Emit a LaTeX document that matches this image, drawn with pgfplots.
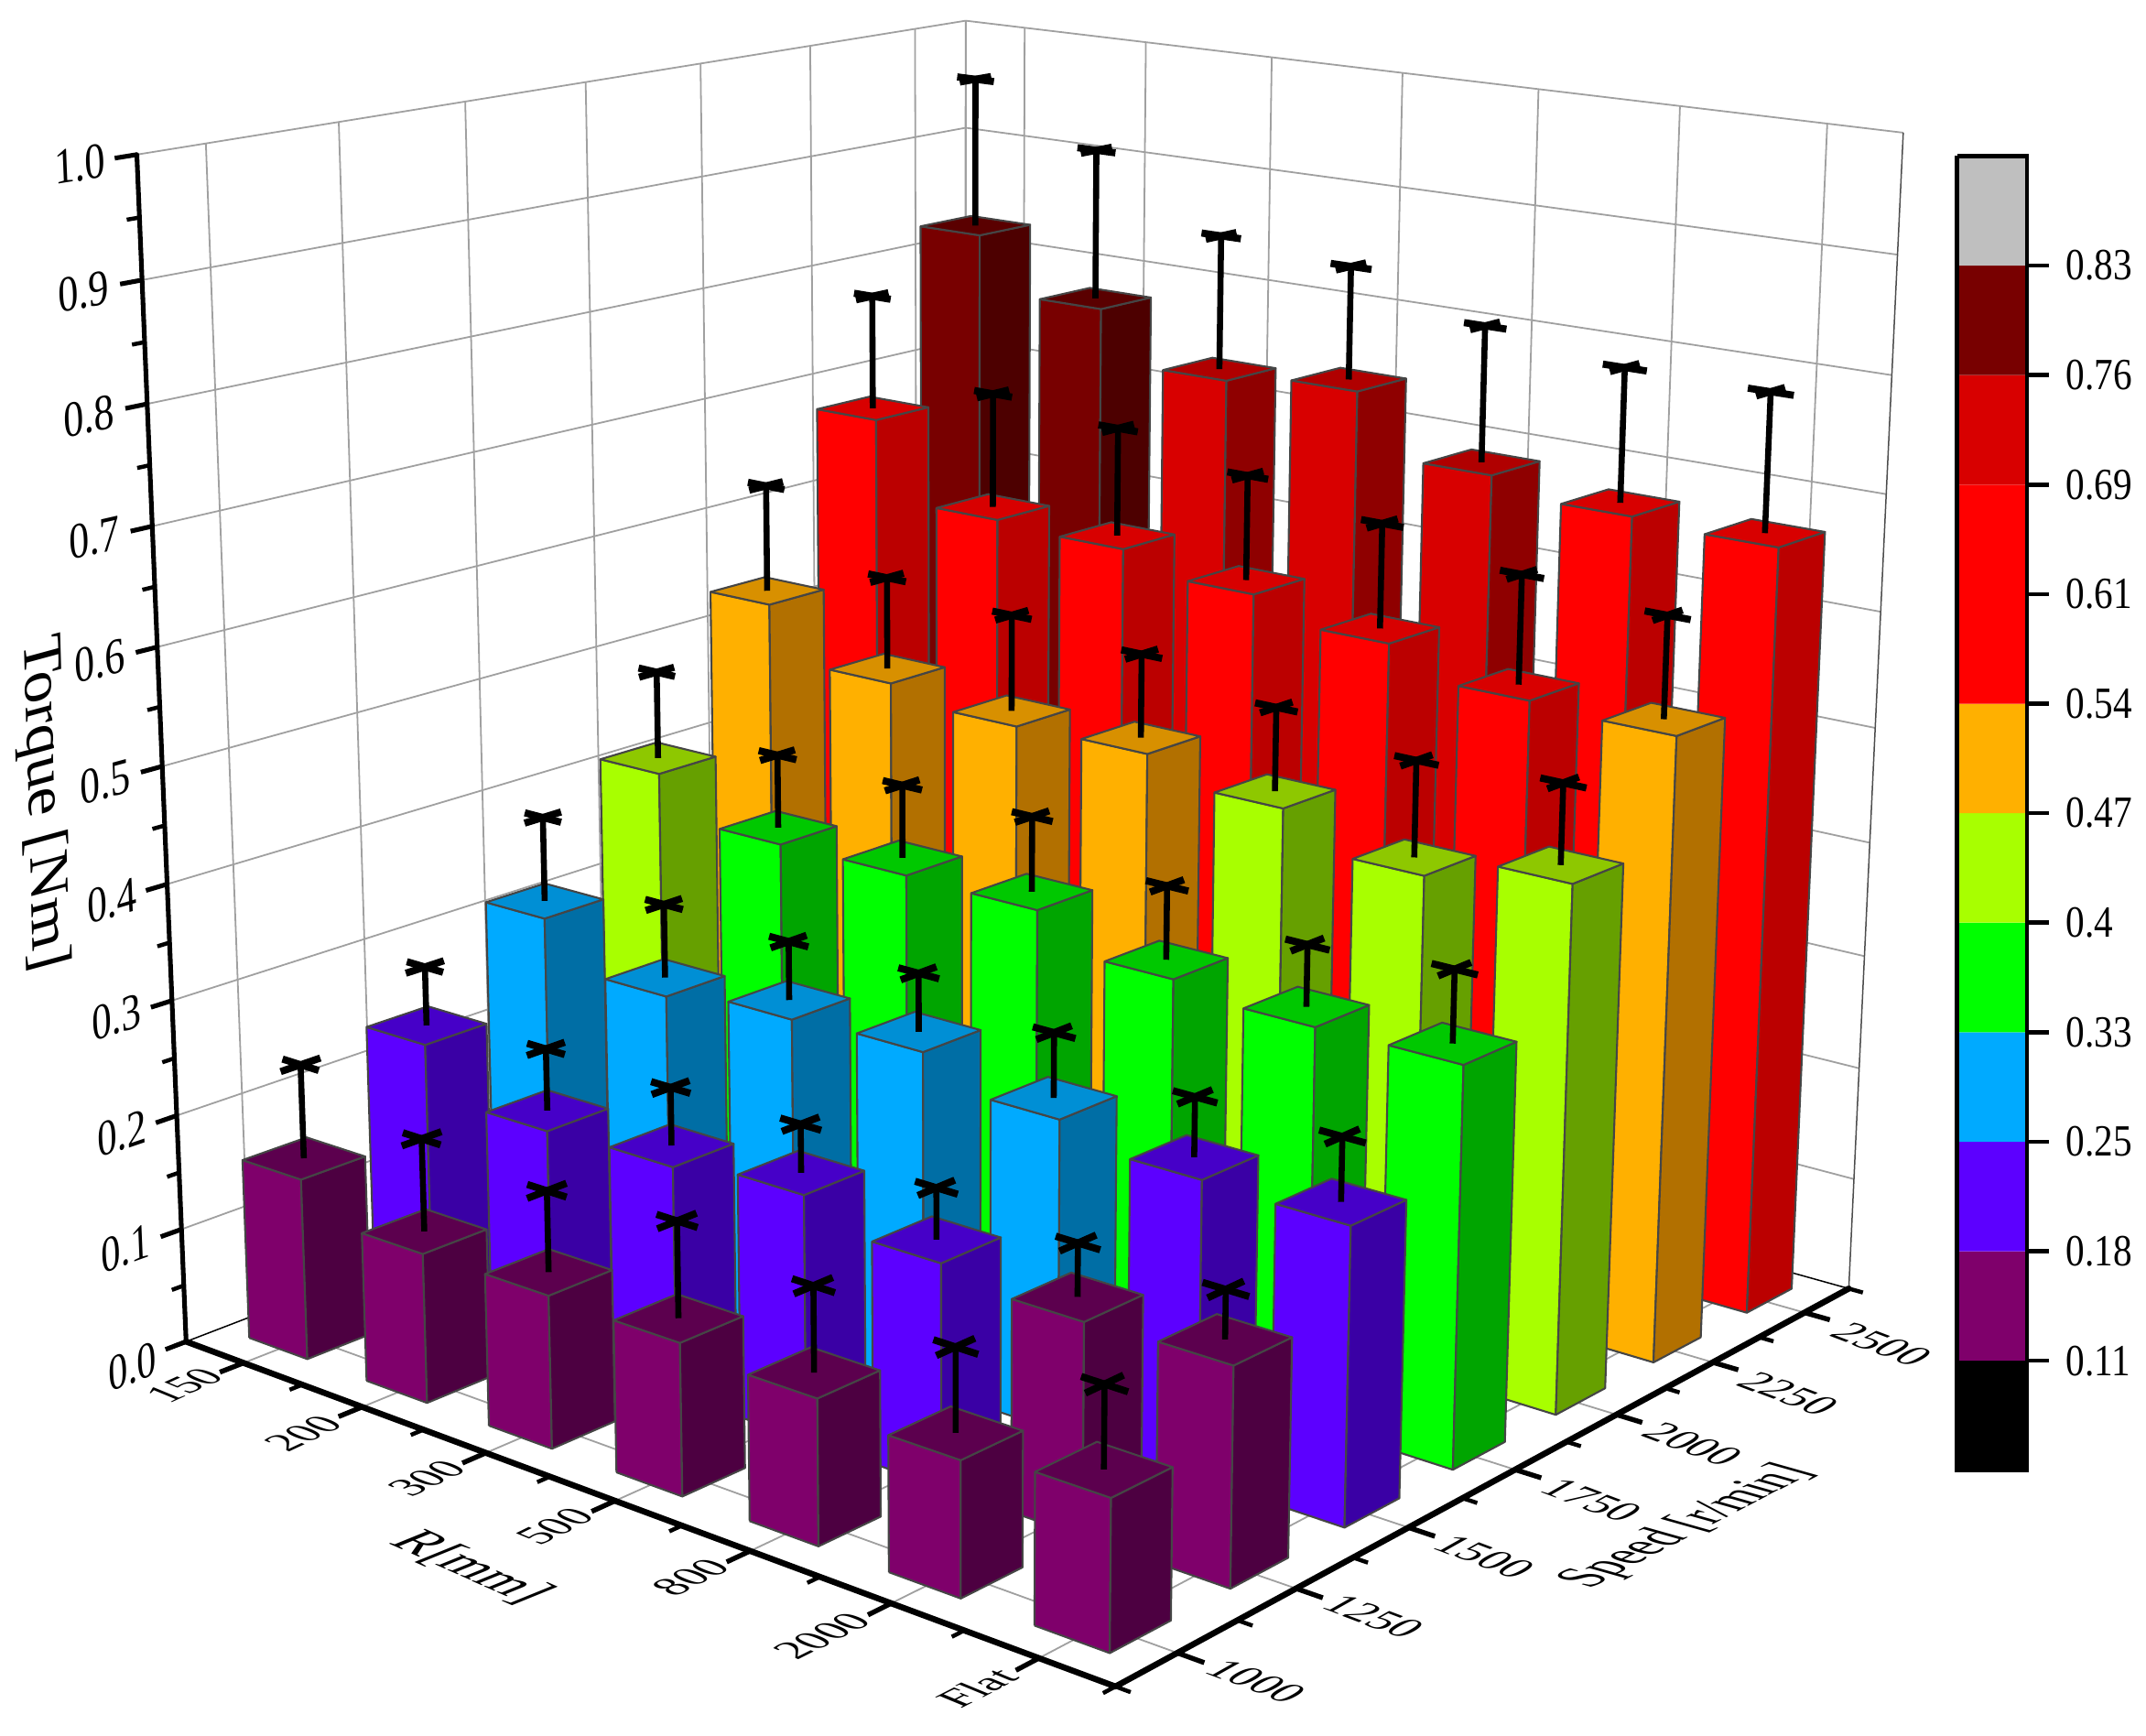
\documentclass[border=0pt]{standalone}
\usepackage{pgfplots}
\pgfplotsset{compat=1.18}
\usepackage{fontspec}
\setmainfont{Liberation Serif}
% band colours: main, right face, top face
\definecolor{cP}{HTML}{7F006B}\definecolor{cPr}{HTML}{4D0041}\definecolor{cPt}{HTML}{5C004E}
\definecolor{cV}{HTML}{5C00FF}\definecolor{cVr}{HTML}{3A00A5}\definecolor{cVt}{HTML}{4600C8}
\definecolor{cS}{HTML}{00AAFF}\definecolor{cSr}{HTML}{006EA5}\definecolor{cSt}{HTML}{008FD5}
\definecolor{cG}{HTML}{00FF00}\definecolor{cGr}{HTML}{00A500}\definecolor{cGt}{HTML}{00C800}
\definecolor{cL}{HTML}{A8FF00}\definecolor{cLr}{HTML}{66A000}\definecolor{cLt}{HTML}{8EC800}
\definecolor{cO}{HTML}{FFB000}\definecolor{cOr}{HTML}{B27000}\definecolor{cOt}{HTML}{D89000}
\definecolor{cR}{HTML}{FF0000}\definecolor{cRr}{HTML}{BB0000}\definecolor{cRt}{HTML}{D80000}
\definecolor{cD}{HTML}{D80000}\definecolor{cDr}{HTML}{8F0000}\definecolor{cDt}{HTML}{B00000}
\definecolor{cM}{HTML}{780000}\definecolor{cMr}{HTML}{4D0000}\definecolor{cMt}{HTML}{5A0000}
\definecolor{gridc}{HTML}{A0A0A0}
\definecolor{edgec}{HTML}{454545}
% perspective projection of (u,v,z) on the page
\newcommand\proj[5]{%
  \pgfmathsetmacro\W{1-0.14196*(#1)+0.17*(#2)-0.0597*(#3)}%
  \pgfmathsetmacro#4{(136+563.3*(#1)+689.4*(#2)-41.97*(#3))/\W}%
  \pgfmathsetmacro#5{(980+77.08*(#1)-89.4*(#2)-873.8*(#3))/\W}}
\newcommand\seg[7]{% options, u1 v1 z1, u2 v2 z2
  \proj{#2}{#3}{#4}{\xa}{\ya}\proj{#5}{#6}{#7}{\xb}{\yb}%
  \edef\tmp{\noexpand\addplot[#1] coordinates {(\xa,\ya) (\xb,\yb)};}\tmp}
\newcommand\tb[4]{% i, j, torque, error
  \ifdim#3pt<0.18pt\def\cc{cP}\else\ifdim#3pt<0.25pt\def\cc{cV}\else
  \ifdim#3pt<0.33pt\def\cc{cS}\else\ifdim#3pt<0.40pt\def\cc{cG}\else
  \ifdim#3pt<0.47pt\def\cc{cL}\else\ifdim#3pt<0.54pt\def\cc{cO}\else
  \ifdim#3pt<0.685pt\def\cc{cR}\else\ifdim#3pt<0.76pt\def\cc{cD}\else
  \def\cc{cM}\fi\fi\fi\fi\fi\fi\fi\fi
  \pgfmathsetmacro\uc{(#1+0.5)/7-0.0016}\pgfmathsetmacro\vc{(#2+0.5)/7+0.0038}%
  \pgfmathsetmacro\ul{\uc-0.0357}\pgfmathsetmacro\uh{\uc+0.0357}%
  \pgfmathsetmacro\vl{\vc-0.0357}\pgfmathsetmacro\vh{\vc+0.0357}%
  \proj{\ul}{\vl}{0}{\xa}{\ya}\proj{\uh}{\vl}{0}{\xb}{\yb}\proj{\uh}{\vh}{0}{\xc}{\yc}%
  \proj{\ul}{\vl}{#3}{\xd}{\yd}\proj{\uh}{\vl}{#3}{\xe}{\ye}\proj{\uh}{\vh}{#3}{\xf}{\yf}\proj{\ul}{\vh}{#3}{\xg}{\yg}%
  \edef\tmp{\noexpand\addplot[fill=\cc,draw=edgec,line width=0.7pt,line join=round] coordinates {(\xa,\ya) (\xb,\yb) (\xe,\ye) (\xd,\yd) (\xa,\ya)};
    \noexpand\addplot[fill=\cc r,draw=edgec,line width=0.7pt,line join=round] coordinates {(\xb,\yb) (\xc,\yc) (\xf,\yf) (\xe,\ye) (\xb,\yb)};
    \noexpand\addplot[fill=\cc t,draw=edgec,line width=0.7pt,line join=round] coordinates {(\xd,\yd) (\xe,\ye) (\xf,\yf) (\xg,\yg) (\xd,\yd)};}\tmp
  \pgfmathsetmacro\zt{#3+#4}%
  \seg{black,line width=2.2pt}{\uc}{\vc}{#3}{\uc}{\vc}{\zt}%
  \pgfmathsetmacro\ua{\uc-0.022}\pgfmathsetmacro\ub{\uc+0.022}\pgfmathsetmacro\va{\vc-0.022}\pgfmathsetmacro\vb{\vc+0.022}%
  \seg{black,line width=2.6pt}{\ua}{\vc}{\zt}{\ub}{\vc}{\zt}%
  \seg{black,line width=2.6pt}{\uc}{\va}{\zt}{\uc}{\vb}{\zt}}
\newcommand\band[3]{\addplot[fill=#1,draw=none] coordinates {(1430,#2) (1481,#2) (1481,#3) (1430,#3) (1430,#2)};}
\newcommand\cbl[2]{\addplot[black,line width=1.5pt] coordinates {(1481,#1) (1497,#1)};
  \node[anchor=west,yscale=1.18,inner sep=0pt,font=\fontsize{13.8}{13.8}\selectfont] at (axis cs:1509,#1) {#2};}
\newcommand\zl[5]{\node[cm={#3,#4,-0.05,1.23,(0,0)},inner sep=0pt,font=\fontsize{15}{15}\selectfont] at (axis cs:#1,#2) {#5};}
\newcommand\rl[5]{\node[cm={#3,#4,-0.92,0.38,(0,0)},inner sep=0pt,font=\fontsize{16}{16}\selectfont] at (axis cs:#1,#2) {#5};}
\newcommand\spl[3]{\node[cm={0.90,-0.34,0.80,0.45,(0,0)},inner sep=0pt,font=\fontsize{17}{17}\selectfont] at (axis cs:#1,#2) {#3};}
\begin{document}
\begin{tikzpicture}
\useasboundingbox (0,0) rectangle (784pt,634.1pt);
\begin{axis}[at={(0,0)},anchor=south west,scale only axis,width=784pt,height=634.1pt,
  xmin=0,xmax=1568,ymin=0,ymax=1268,y dir=reverse,axis lines=none,clip=false]
% walls and floor grid
\pgfplotsforeachungrouped \k in {1,...,10}{%
  \pgfmathsetmacro\zz{\k/10}%
  \seg{gridc,line width=0.6pt}{0}{0}{\zz}{0}{1}{\zz}%
  \seg{gridc,line width=0.6pt}{0}{1}{\zz}{1}{1}{\zz}}
\pgfplotsforeachungrouped \k in {0,...,6}{%
  \pgfmathsetmacro\tk{(\k+0.5)/7}%
  \seg{gridc,line width=0.6pt}{0}{\tk}{0}{0}{\tk}{1}%
  \seg{gridc,line width=0.6pt}{\tk}{1}{0}{\tk}{1}{1}%
  \seg{gridc,line width=0.6pt}{\tk}{0}{0}{\tk}{1}{0}%
  \seg{gridc,line width=0.6pt}{0}{\tk}{0}{1}{\tk}{0}}
\seg{gridc,line width=0.7pt}{0}{1}{0}{0}{1}{1}
\seg{black,line width=0.5pt}{0}{0}{0}{0}{1}{0}
\seg{black,line width=0.5pt}{0}{1}{0}{1}{1}{0}
\seg{black!70,line width=0.5pt}{1}{1}{0}{1}{1}{1}
% bars: i (R), j (speed), torque, error
\tb{0}{6}{.825}{.135}\tb{1}{6}{.775}{.135}\tb{2}{6}{.729}{.120}\tb{3}{6}{.739}{.100}\tb{4}{6}{.686}{.119}\tb{5}{6}{.672}{.116}\tb{6}{6}{.668}{.119}
\tb{0}{5}{.677}{.103}\tb{1}{5}{.607}{.103}\tb{2}{5}{.603}{.096}\tb{3}{5}{.586}{.092}\tb{4}{5}{.567}{.091}\tb{5}{5}{.543}{.094}\tb{6}{5}{.539}{.087}
\tb{0}{4}{.534}{.096}\tb{1}{4}{.487}{.082}\tb{2}{4}{.474}{.085}\tb{3}{4}{.476}{.073}\tb{4}{4}{.456}{.072}\tb{5}{4}{.427}{.082}\tb{6}{4}{.449}{.068}
\tb{0}{3}{.410}{.078}\tb{1}{3}{.374}{.065}\tb{2}{3}{.375}{.064}\tb{3}{3}{.374}{.065}\tb{4}{3}{.345}{.063}\tb{5}{3}{.336}{.052}\tb{6}{3}{.337}{.061}
\tb{0}{2}{.313}{.075}\tb{1}{2}{.274}{.065}\tb{2}{2}{.285}{.051}\tb{3}{2}{.289}{.050}\tb{4}{2}{.265}{.055}\tb{5}{2}{.249}{.050}\tb{6}{2}{.247}{.053}
\tb{0}{1}{.237}{.052}\tb{1}{1}{.194}{.054}\tb{2}{1}{.197}{.050}\tb{3}{1}{.208}{.041}\tb{4}{1}{.187}{.043}\tb{5}{1}{.176}{.044}\tb{6}{1}{.179}{.040}
\tb{0}{0}{.158}{.082}\tb{1}{0}{.129}{.080}\tb{2}{0}{.130}{.069}\tb{3}{0}{.128}{.081}\tb{4}{0}{.121}{.071}\tb{5}{0}{.111}{.069}\tb{6}{0}{.122}{.067}
% axes
\seg{black,line width=1.7pt,line cap=round}{0}{0}{0}{0}{0}{1}
\seg{black,line width=2.2pt,line cap=round}{0}{0}{0}{1}{0}{0}
\seg{black,line width=2.2pt,line cap=round}{1}{0}{0}{1}{1}{0}
\pgfplotsforeachungrouped \k in {0,...,10}{%
  \pgfmathsetmacro\zz{\k/10}%
  \seg{black,line width=1.7pt}{0}{0}{\zz}{0}{-0.0225}{\zz}}
\pgfplotsforeachungrouped \k in {0,...,9}{%
  \pgfmathsetmacro\zz{(\k+0.5)/10}%
  \seg{black,line width=1.5pt}{0}{0}{\zz}{0}{-0.013}{\zz}}
\pgfplotsforeachungrouped \k in {0,...,6}{%
  \pgfmathsetmacro\tk{(\k+0.5)/7}%
  \seg{black,line width=1.8pt}{\tk}{0}{0}{\tk}{-0.026}{0}%
  \seg{black,line width=1.8pt}{1}{\tk}{0}{1.025}{\tk}{0}}
\pgfplotsforeachungrouped \k in {0,...,7}{%
  \pgfmathsetmacro\tk{\k/7}%
  \seg{black,line width=1.5pt}{\tk}{0}{0}{\tk}{-0.014}{0}%
  \seg{black,line width=1.5pt}{1}{\tk}{0}{1.014}{\tk}{0}}
% tick labels
\zl{58.5}{120}{.987}{.160}{1.0}
\zl{61}{213}{.984}{.181}{0.9}
\zl{65}{304}{.979}{.203}{0.8}
\zl{69}{393}{.975}{.223}{0.7}
\zl{73}{483}{.970}{.244}{0.6}
\zl{77}{571}{.965}{.264}{0.5}
\zl{82}{658}{.959}{.284}{0.4}
\zl{85}{743}{.953}{.302}{0.3}
\zl{89}{828}{.947}{.321}{0.2}
\zl{92}{912}{.941}{.339}{0.1}
\zl{97}{998}{.934}{.358}{0.0}
\rl{135}{1012}{.88}{.40}{150}
\rl{222}{1047}{.88}{.41}{200}
\rl{312}{1080}{.88}{.42}{300}
\rl{406}{1115}{.88}{.43}{500}
\rl{505}{1152}{.88}{.44}{800}
\rl{601}{1195}{.88}{.44}{2000}
\rl{714}{1233}{.88}{.45}{Flat}
\spl{918}{1228}{1000}
\spl{1004}{1181}{1250}
\spl{1085}{1137}{1500}
\spl{1163}{1096}{1750}
\spl{1237}{1055}{2000}
\spl{1307}{1018}{2250}
\spl{1375}{982}{2500}
% axis titles
\node[cm={.86,-.38,1.01,.41,(0,0)},inner sep=0pt,font=\fontsize{20}{20}\selectfont] at (axis cs:344,1145) {R[mm]};
\node[cm={.78,.405,-1.136,.32,(0,0)},inner sep=0pt,font=\fontsize{19}{19}\selectfont] at (axis cs:1233,1115) {Speed [r/min]};
\node[cm={.03,-1.055,.92,.25,(0,0)},inner sep=0pt,font=\fontsize{22}{22}\selectfont] at (axis cs:31,587) {Torque [Nm]};
% colour scale
\band{black}{994}{1074}
\band{cP}{914}{994}
\band{cV}{834}{914}
\band{cS}{754}{834}
\band{cG}{674}{754}
\band{cL}{594}{674}
\band{cO}{514}{594}
\band{cR}{434}{514}
\band{cR}{354}{434}
\band{cD}{274}{354}
\band{cM}{194}{274}
\band{black!25}{114}{194}
\addplot[black,line width=1.5pt] coordinates {(1430,114) (1481,114) (1481,1074) (1430,1074) (1430,114)};
\cbl{994}{0.11}\cbl{914}{0.18}\cbl{834}{0.25}\cbl{754}{0.33}\cbl{674}{0.4}\cbl{594}{0.47}
\cbl{514}{0.54}\cbl{434}{0.61}\cbl{354}{0.69}\cbl{274}{0.76}\cbl{194}{0.83}
\end{axis}
\end{tikzpicture}
\end{document}
